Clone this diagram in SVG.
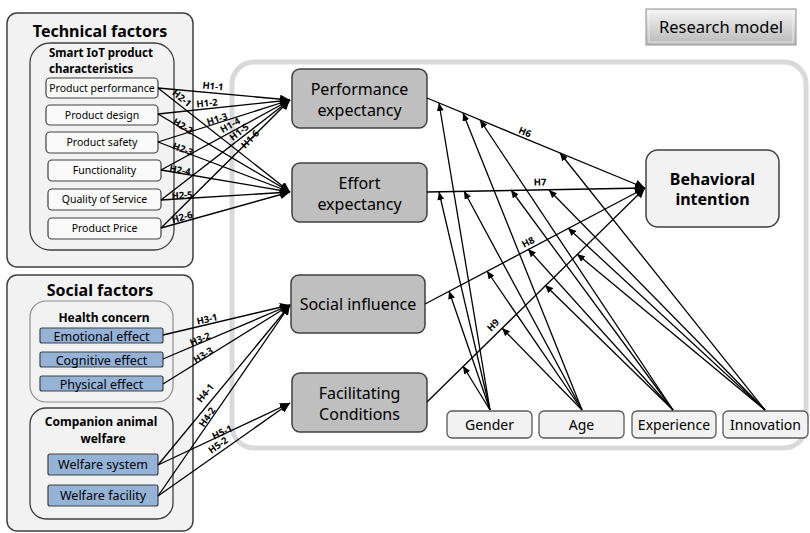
<svg xmlns="http://www.w3.org/2000/svg" width="810" height="533" viewBox="0 0 810 533">
<defs>
<marker id="ah" markerUnits="userSpaceOnUse" markerWidth="11" markerHeight="9" refX="10" refY="4.5" orient="auto">
<path d="M0,0 L10,4.5 L0,9 z" fill="#000"/>
</marker>
<marker id="am" markerUnits="userSpaceOnUse" markerWidth="9" markerHeight="7" refX="8" refY="3.5" orient="auto">
<path d="M0,0 L8,3.5 L0,7 z" fill="#000"/>
</marker>
<linearGradient id="rg" x1="0" y1="0" x2="0" y2="1">
<stop offset="0" stop-color="#f4f4f4"/>
<stop offset="1" stop-color="#b8b8b8"/>
</linearGradient>
</defs>
<style>
text{font-family:"Noto Sans","Open Sans","DejaVu Sans",sans-serif;fill:#000}
.outer{fill:#f2f2f2;stroke:#404040;stroke-width:1.5}
.inner{fill:#f2f2f2;stroke:#404040;stroke-width:1.3}
.item{fill:#fafafa;stroke:#404040;stroke-width:1.2}
.blue{fill:#95b3d7;stroke:#404040;stroke-width:1.2}
.main{fill:#bfbfbf;stroke:#404040;stroke-width:1.5}
.mod{fill:#f2f2f2;stroke:#595959;stroke-width:1.3}
.it{font-size:10.5px;text-anchor:middle}
.bt{font-size:12.5px;text-anchor:middle}
.mt{font-size:16px;text-anchor:middle}
.md{font-size:14px;text-anchor:middle}
.h{font-size:9.5px;font-weight:bold;text-anchor:middle}
.c line{stroke:#000;stroke-width:1.3}
.c .a{marker-end:url(#ah)}
.c .m{marker-end:url(#am)}
</style>
<rect width="810" height="533" fill="#fff"/>
<rect id="container" x="232" y="62" width="574" height="386" rx="22" fill="none" stroke="#d9d9d9" stroke-width="5"/>

<g id="research-model">
<rect x="646" y="9" width="150" height="36" fill="url(#rg)" stroke="#a0a0a0" stroke-width="1.2"/>
<rect x="649" y="12" width="144" height="30" fill="none" stroke="#fff" stroke-opacity="0.6" stroke-width="1"/>
<text x="721" y="33" font-size="16.5" text-anchor="middle">Research model</text>
</g>

<g id="technical-factors">
<rect class="outer" x="7" y="13" width="186" height="254" rx="10"/>
<text x="100" y="37" font-size="16" font-weight="bold" text-anchor="middle">Technical factors</text>
<rect class="inner" x="30" y="43" width="144" height="207" rx="20"/>
<text x="49" y="57" font-size="11.5" font-weight="bold">Smart IoT product</text>
<text x="49" y="72.5" font-size="11.5" font-weight="bold">characteristics</text>
</g>
<g id="product-performance"><rect class="item" x="46" y="78" width="112" height="20" rx="4"/><text class="it" x="102" y="91.5">Product performance</text></g>
<g id="product-design"><rect class="item" x="46" y="105" width="112" height="20" rx="4"/><text class="it" x="102" y="118.5">Product design</text></g>
<g id="product-safety"><rect class="item" x="46" y="132" width="112" height="21" rx="4"/><text class="it" x="102" y="146">Product safety</text></g>
<g id="functionality"><rect class="item" x="48" y="160" width="113" height="21" rx="4"/><text class="it" x="104.5" y="174">Functionality</text></g>
<g id="quality-of-service"><rect class="item" x="48" y="189" width="113" height="21" rx="4"/><text class="it" x="104.5" y="203">Quality of Service</text></g>
<g id="product-price"><rect class="item" x="48" y="218" width="113" height="21" rx="4"/><text class="it" x="104.5" y="232">Product Price</text></g>

<g id="social-factors">
<rect class="outer" x="7" y="275" width="186" height="256" rx="10"/>
<text x="100" y="296" font-size="16" font-weight="bold" text-anchor="middle">Social factors</text>
<rect x="30" y="301" width="143" height="101" rx="16" fill="#f2f2f2" stroke="#8c8c8c" stroke-width="1.2"/>
<text x="104" y="322" font-size="12" font-weight="bold" text-anchor="middle">Health concern</text>
<rect class="inner" x="30" y="408" width="143" height="111" rx="16"/>
<text x="101" y="426" font-size="12" font-weight="bold" text-anchor="middle">Companion animal</text>
<text x="103" y="443" font-size="12" font-weight="bold" text-anchor="middle">welfare</text>
</g>
<g id="emotional-effect"><rect class="blue" x="40" y="328" width="123" height="15" rx="2"/><text class="bt" x="101.5" y="340.5">Emotional effect</text></g>
<g id="cognitive-effect"><rect class="blue" x="40" y="352" width="123" height="15" rx="2"/><text class="bt" x="101.5" y="364.5">Cognitive effect</text></g>
<g id="physical-effect"><rect class="blue" x="40" y="376" width="123" height="15" rx="2"/><text class="bt" x="101.5" y="388.5">Physical effect</text></g>
<g id="welfare-system"><rect class="blue" x="48" y="454" width="110" height="21" rx="2"/><text class="bt" x="103" y="469">Welfare system</text></g>
<g id="welfare-facility"><rect class="blue" x="48" y="485" width="110" height="21" rx="2"/><text class="bt" x="103" y="500">Welfare facility</text></g>

<g id="performance-expectancy"><rect class="main" x="292" y="69" width="135" height="59" rx="8"/><text class="mt" x="359.5" y="95">Performance</text><text class="mt" x="359.5" y="116">expectancy</text></g>
<g id="effort-expectancy"><rect class="main" x="292" y="163" width="135" height="59" rx="8"/><text class="mt" x="359.5" y="189">Effort</text><text class="mt" x="359.5" y="210">expectancy</text></g>
<g id="social-influence"><rect class="main" x="291" y="275" width="134" height="58" rx="8"/><text class="mt" x="358" y="310">Social influence</text></g>
<g id="facilitating-conditions"><rect class="main" x="292" y="373" width="135" height="59" rx="8"/><text class="mt" x="359.5" y="399">Facilitating</text><text class="mt" x="359.5" y="420">Conditions</text></g>

<g id="behavioral-intention"><rect x="646" y="150" width="133" height="77" rx="12" fill="#f2f2f2" stroke="#404040" stroke-width="1.5"/><text x="712.5" y="185" font-size="16" font-weight="bold" text-anchor="middle">Behavioral</text><text x="712.5" y="205" font-size="16" font-weight="bold" text-anchor="middle">intention</text></g>

<g id="gender"><rect class="mod" x="447" y="411" width="85" height="27" rx="5"/><text class="md" x="489.5" y="429.5">Gender</text></g>
<g id="age"><rect class="mod" x="539" y="411" width="85" height="27" rx="5"/><text class="md" x="581.5" y="429.5">Age</text></g>
<g id="experience"><rect class="mod" x="632" y="411" width="84" height="27" rx="5"/><text class="md" x="674" y="429.5">Experience</text></g>
<g id="innovation"><rect class="mod" x="723" y="411" width="85" height="27" rx="5"/><text class="md" x="765.5" y="429.5">Innovation</text></g>

<g id="connectors" class="c">
<line class="a" x1="158" y1="88" x2="290" y2="100"/>
<line class="a" x1="158" y1="88" x2="290" y2="192"/>
<line class="a" x1="158" y1="114" x2="290" y2="100"/>
<line class="a" x1="158" y1="114" x2="290" y2="192"/>
<line class="a" x1="158" y1="142" x2="290" y2="100"/>
<line class="a" x1="158" y1="142" x2="290" y2="192"/>
<line class="a" x1="161" y1="170" x2="290" y2="100"/>
<line class="a" x1="161" y1="170" x2="290" y2="192"/>
<line class="a" x1="161" y1="200" x2="290" y2="100"/>
<line class="a" x1="161" y1="200" x2="290" y2="192"/>
<line class="a" x1="161" y1="228" x2="290" y2="100"/>
<line class="a" x1="161" y1="228" x2="290" y2="192"/>
<line class="a" x1="163" y1="335" x2="290" y2="305"/>
<line class="a" x1="163" y1="359" x2="290" y2="305"/>
<line class="a" x1="163" y1="384" x2="290" y2="305"/>
<line class="a" x1="158" y1="465" x2="290" y2="305"/>
<line class="a" x1="158" y1="496" x2="290" y2="305"/>
<line class="a" x1="158" y1="465" x2="290" y2="403"/>
<line class="a" x1="158" y1="496" x2="290" y2="403"/>
<line class="a" x1="427" y1="98" x2="645" y2="188"/>
<line class="a" x1="427" y1="192" x2="645" y2="188"/>
<line class="a" x1="425" y1="304" x2="645" y2="188"/>
<line class="a" x1="427" y1="402" x2="645" y2="188"/>
<line class="m" x1="490" y1="410" x2="439" y2="103"/>
<line class="m" x1="490" y1="410" x2="439" y2="192"/>
<line class="m" x1="490" y1="410" x2="449" y2="291"/>
<line class="m" x1="490" y1="410" x2="463" y2="366"/>
<line class="m" x1="582" y1="410" x2="463" y2="113"/>
<line class="m" x1="582" y1="410" x2="464" y2="191"/>
<line class="m" x1="582" y1="410" x2="487" y2="271"/>
<line class="m" x1="582" y1="410" x2="502" y2="328"/>
<line class="m" x1="673" y1="410" x2="480" y2="120"/>
<line class="m" x1="673" y1="410" x2="511" y2="190"/>
<line class="m" x1="673" y1="410" x2="528" y2="249"/>
<line class="m" x1="673" y1="410" x2="545" y2="285"/>
<line class="m" x1="765" y1="410" x2="560" y2="153"/>
<line class="m" x1="765" y1="410" x2="549" y2="190"/>
<line class="m" x1="765" y1="410" x2="568" y2="228"/>
<line class="m" x1="765" y1="410" x2="577" y2="254"/>
<text class="h" transform="translate(213,86) rotate(5.3)" y="3.5">H1-1</text>
<text class="h" transform="translate(182,98) rotate(38.7)" y="3.5">H2-1</text>
<text class="h" transform="translate(207,103) rotate(-6.1)" y="3.5">H1-2</text>
<text class="h" transform="translate(183,126) rotate(31)" y="3.5">H2-2</text>
<text class="h" transform="translate(217,119) rotate(-17.9)" y="3.5">H1-3</text>
<text class="h" transform="translate(183,149) rotate(21)" y="3.5">H2-3</text>
<text class="h" transform="translate(230,125) rotate(-29)" y="3.5">H1-4</text>
<text class="h" transform="translate(180,170) rotate(10)" y="3.5">H2-4</text>
<text class="h" transform="translate(239,132) rotate(-38.4)" y="3.5">H1-5</text>
<text class="h" transform="translate(182,195) rotate(-3.6)" y="3.5">H2-5</text>
<text class="h" transform="translate(250,139) rotate(-45.4)" y="3.5">H1-6</text>
<text class="h" transform="translate(182,217) rotate(-15.9)" y="3.5">H2-6</text>
<text class="h" transform="translate(207,319) rotate(-12.4)" y="3.5">H3-1</text>
<text class="h" transform="translate(200,339) rotate(-22.3)" y="3.5">H3-2</text>
<text class="h" transform="translate(203,355) rotate(-31.2)" y="3.5">H3-3</text>
<text class="h" transform="translate(205,393) rotate(-50.1)" y="3.5">H4-1</text>
<text class="h" transform="translate(207,417) rotate(-55.1)" y="3.5">H4-2</text>
<text class="h" transform="translate(222,432) rotate(-25.2)" y="3.5">H5-1</text>
<text class="h" transform="translate(218,445) rotate(-35.2)" y="3.5">H5-2</text>
<text class="h" transform="translate(525,132) rotate(22.6)" y="3.5">H6</text>
<text class="h" transform="translate(540,182) rotate(-1)" y="3.5">H7</text>
<text class="h" transform="translate(528,242) rotate(-28)" y="3.5">H8</text>
<text class="h" transform="translate(493,325) rotate(-44.7)" y="3.5">H9</text>
</g>
</svg>
